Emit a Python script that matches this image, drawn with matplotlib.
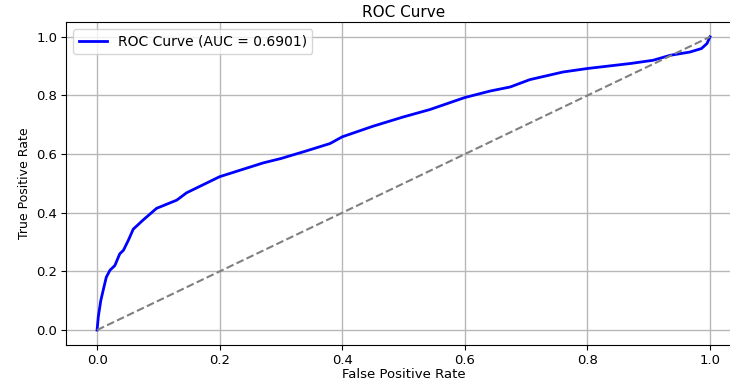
import numpy as np
import matplotlib
matplotlib.use("Agg")
import matplotlib.pyplot as plt

# points
fpr = [0, 0.002, 0.006, 0.01, 0.015, 0.021, 0.029, 0.037, 0.043, 0.051, 0.059,
       0.075, 0.097, 0.13, 0.146, 0.2, 0.271, 0.3, 0.34, 0.38, 0.4, 0.45, 0.5,
       0.543, 0.6, 0.641, 0.674, 0.706, 0.76, 0.8, 0.87, 0.907, 0.935, 0.967,
       0.986, 0.995, 1.0]
tpr = [0, 0.045, 0.10, 0.136, 0.18, 0.204, 0.22, 0.26, 0.272, 0.306, 0.344,
       0.375, 0.415, 0.443, 0.468, 0.523, 0.57, 0.585, 0.61, 0.636, 0.659, 0.695, 0.727,
       0.752, 0.793, 0.815, 0.829, 0.854, 0.88, 0.892, 0.909, 0.92, 0.937, 0.948,
       0.96, 0.977, 1.0]
auc_value = 0.6901
diag = [0, 1]

fig = plt.figure(figsize=(7.3, 3.81), dpi=100)
ax = fig.add_axes([0.091, 0.0953, 0.9236, 0.8465])

ax.plot(fpr, tpr, color='blue', lw=2, label=f'ROC Curve (AUC = {auc_value:.4f})')
ax.plot(diag, diag, color='gray', lw=1.5, linestyle='--')

ax.set_xlim(-0.05, 1.05)
ax.set_ylim(-0.05, 1.05)
ax.set_xticks(np.arange(0, 1.01, 0.2))
ax.set_yticks(np.arange(0, 1.01, 0.2))
ax.tick_params(labelsize=9.5, pad=3)
ax.grid(True, color='#b8b8b8', lw=1)
ax.set_title('ROC Curve', fontsize=11, pad=4)
ax.set_xlabel('False Positive Rate', fontsize=9.5, labelpad=1)
ax.set_ylabel('True Positive Rate', fontsize=9)
ax.legend(loc='upper left', fontsize=10)

fig.savefig('out.png', dpi=100)
